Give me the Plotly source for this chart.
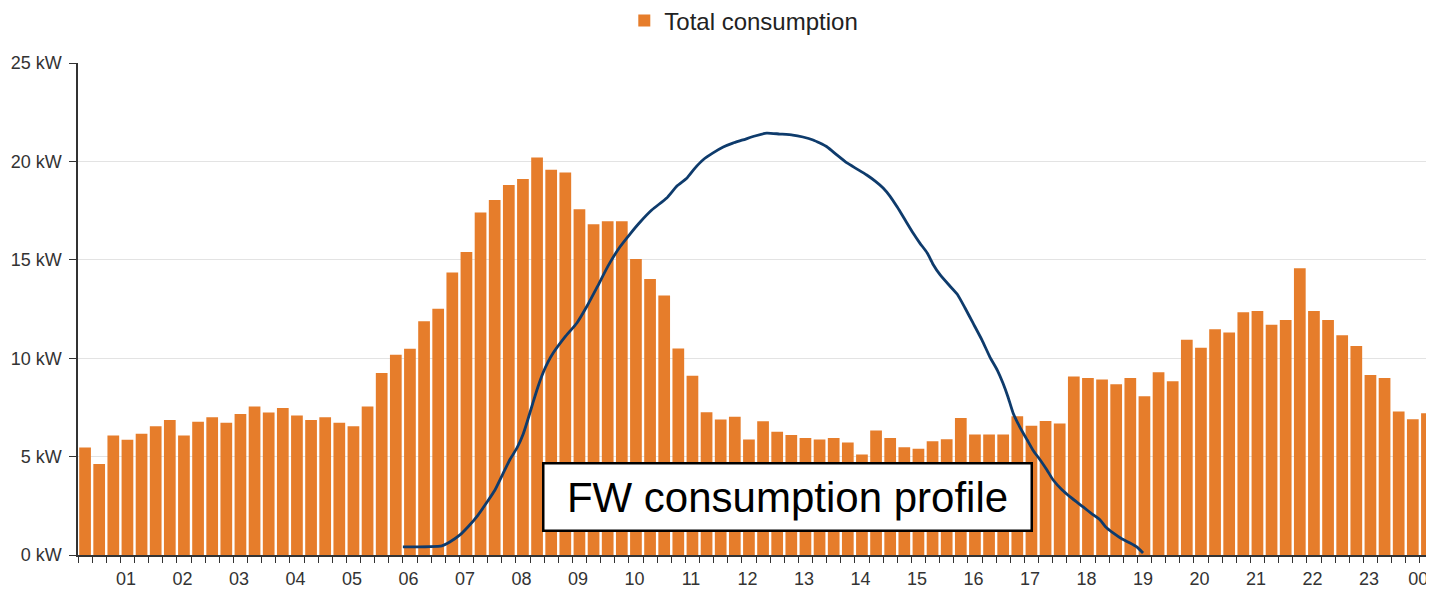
import plotly.graph_objects as go

# 15-minute total consumption values (kW), 96 intervals over one day
consumption_kw = [
    5.46, 4.62, 6.07, 5.86, 6.16, 6.54, 6.86, 6.07, 6.77, 7.00, 6.72, 7.16,
    7.54, 7.24, 7.47, 7.09, 6.86, 7.00, 6.72, 6.54, 7.54, 9.25, 10.18, 10.48,
    11.88, 12.51, 14.35, 15.40, 17.40, 18.04, 18.80, 19.11, 20.20, 19.58, 19.43, 17.57,
    16.81, 16.96, 16.96, 15.04, 14.03, 13.19, 10.49, 9.11, 7.25, 6.88, 7.03, 5.87,
    6.80, 6.26, 6.10, 5.95, 5.87, 5.94, 5.72, 5.11, 6.32, 5.94, 5.48, 5.40,
    5.78, 5.88, 6.96, 6.12, 6.12, 6.12, 7.05, 6.57, 6.81, 6.68, 9.07, 8.99,
    8.92, 8.68, 8.99, 8.07, 9.29, 8.83, 10.94, 10.53, 11.47, 11.31, 12.33, 12.40,
    11.70, 11.94, 14.57, 12.40, 11.94, 11.16, 10.62, 9.14, 8.99, 7.29, 6.90, 7.20,
]

# FW consumption profile curve (hour of day, kW)
fw_hours = [
    5.75, 6.44, 6.58, 6.76, 6.90, 7.08, 7.24, 7.38, 7.52, 7.65, 7.77, 7.88,
    7.96, 8.05, 8.14, 8.23, 8.32, 8.41, 8.62, 8.83, 9.01, 9.19, 9.38, 9.59,
    9.77, 9.95, 10.16, 10.42, 10.60, 10.78, 10.92, 11.06, 11.24, 11.42, 11.59, 11.77,
    11.98, 12.19, 12.42, 12.65, 12.83, 13.01, 13.13, 13.26, 13.43, 13.61, 13.79, 13.96,
    14.11, 14.25, 14.37, 14.50, 14.64, 14.78, 14.90, 15.03, 15.13, 15.26, 15.43, 15.56,
    15.70, 15.84, 16.00, 16.14, 16.27, 16.37, 16.46, 16.55, 16.67, 16.80, 16.90, 17.03,
    17.15, 17.26, 17.42, 17.56, 17.79, 17.95, 18.09, 18.19, 18.32, 18.48, 18.62, 18.74,
    18.85,
]
fw_kw = [
    0.41, 0.46, 0.66, 1.02, 1.42, 2.03, 2.69, 3.30, 4.12, 4.88, 5.44, 6.15,
    6.86, 7.72, 8.54, 9.25, 9.81, 10.26, 11.08, 11.79, 12.65, 13.62, 14.68, 15.65,
    16.31, 16.92, 17.54, 18.14, 18.75, 19.16, 19.66, 20.07, 20.43, 20.73, 20.93, 21.09,
    21.29, 21.44, 21.39, 21.34, 21.24, 21.09, 20.93, 20.73, 20.33, 19.92, 19.61, 19.31,
    19.00, 18.65, 18.24, 17.68, 17.02, 16.36, 15.85, 15.35, 14.79, 14.23, 13.67, 13.26,
    12.55, 11.79, 10.92, 10.06, 9.40, 8.74, 8.03, 7.22, 6.50, 5.84, 5.34, 4.83,
    4.32, 3.81, 3.30, 2.95, 2.44, 2.08, 1.78, 1.42, 1.12, 0.81, 0.61, 0.41,
    0.10,
]

hour_labels = ["01", "02", "03", "04", "05", "06", "07", "08", "09", "10", "11", "12",
               "13", "14", "15", "16", "17", "18", "19", "20", "21", "22", "23", "00"]
y_ticks = [0, 5, 10, 15, 20, 25]
y_tick_text = ["0 kW", "5 kW", "10 kW", "15 kW", "20 kW", "25 kW"]

interval_h = 0.25
bar_x = [(i + 0.5) * interval_h for i in range(len(consumption_kw))]
boundaries = [i * interval_h for i in range(len(consumption_kw) + 1)]
# hour labels sit slightly before each full hour; keep the last one inside the figure
label_pos = [min(h + 1 - 0.15, 23.72) for h in range(len(hour_labels))]

FONT = "Liberation Sans, Arial, sans-serif"
ORANGE = "#E67D2B"
NAVY = "#0E3B6C"

fig = go.Figure()
fig.add_trace(go.Bar(
    x=bar_x, y=consumption_kw, name="Total consumption",
    marker=dict(color=ORANGE, line=dict(width=0)),
    showlegend=True,
))
fig.add_trace(go.Scatter(
    x=fw_hours, y=fw_kw, mode="lines", name="FW consumption profile",
    line=dict(color=NAVY, width=2.8, shape="spline", smoothing=0.5),
    showlegend=False,
))

fig.update_layout(
    width=1426, height=581,
    margin=dict(l=70, r=0, t=55, b=34, autoexpand=False),
    paper_bgcolor="white", plot_bgcolor="white",
    bargap=0.17,
    font=dict(family=FONT, color="#333333", size=18),
    showlegend=True,
    legend=dict(orientation="h", x=0.491, xanchor="center", y=1.0854, yanchor="middle",
                font=dict(size=24, color="#222222"),
                bgcolor="rgba(0,0,0,0)"),
    xaxis=dict(
        range=[0, 24], tickmode="array", tickvals=label_pos, ticktext=hour_labels,
        ticks="", showticklabels=True, ticklabelstandoff=7, ticklabeloverflow="allow",
        tickfont=dict(size=18, family=FONT, color="#333333"),
        minor=dict(tickmode="array", tickvals=boundaries, ticks="outside", ticklen=6,
                   tickcolor="#333333", tickwidth=1, showgrid=False),
        showline=True, linecolor="#333333", linewidth=1.5,
        showgrid=False, zeroline=False, fixedrange=True,
    ),
    yaxis=dict(
        range=[0, 25], tickmode="array", tickvals=y_ticks, ticktext=y_tick_text,
        ticks="outside", ticklen=7, tickcolor="#333333", ticklabelstandoff=4,
        showline=True, linecolor="#333333", linewidth=1.5,
        showgrid=True, gridcolor="#E3E3E3", gridwidth=1, zeroline=False,
        tickfont=dict(size=18, family=FONT, color="#333333"),
    ),
)

fig.add_annotation(
    xref="paper", yref="paper", x=0.5229, y=0.118,
    xanchor="center", yanchor="middle",
    text="FW consumption profile", showarrow=False,
    font=dict(size=42, family=FONT, color="#000000"),
    bgcolor="white", bordercolor="#000000", borderwidth=2.5, borderpad=9,
    width=468,
)

fig.write_html("out.html")
